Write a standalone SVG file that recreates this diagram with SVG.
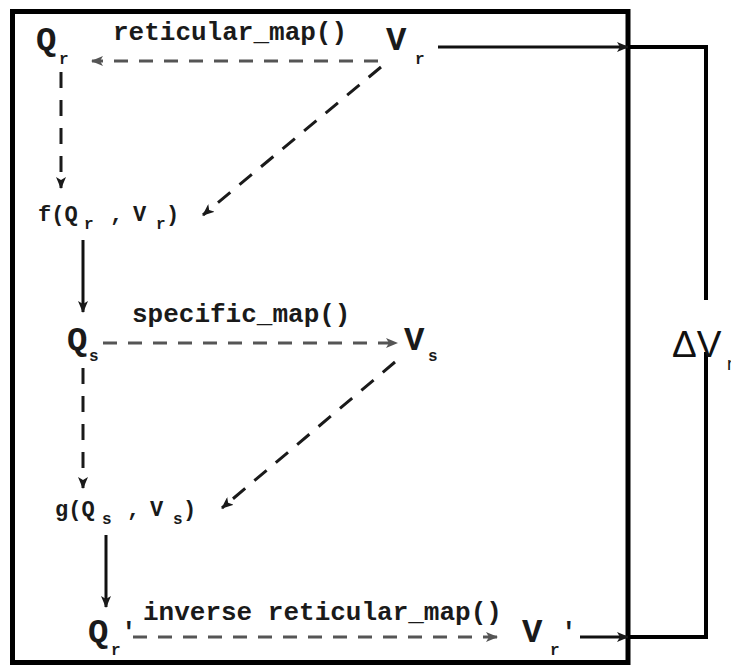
<svg xmlns="http://www.w3.org/2000/svg" width="731" height="671" viewBox="0 0 731 671">
<defs>
<marker id="ah" viewBox="0 0 12 10" refX="11" refY="5" markerWidth="12" markerHeight="10" markerUnits="userSpaceOnUse" orient="auto">
<path d="M0,0 L12,5 L0,10 L3,5 z" fill="#1a1a1a"/>
</marker>
<marker id="ahg" viewBox="0 0 12 10" refX="11" refY="5" markerWidth="12" markerHeight="10" markerUnits="userSpaceOnUse" orient="auto">
<path d="M0,0 L12,5 L0,10 L3,5 z" fill="#555"/>
</marker>
</defs>
<style>
.m{font-family:"Liberation Mono","Courier New",monospace;font-weight:bold;fill:#1a1a1a}
.big{font-size:34px}
.sub{font-size:16px}
.pr{font-size:26px}
.lab{font-size:26px}
.fn{font-size:22px}
.gd{stroke:#555;stroke-width:3;stroke-dasharray:14 11;fill:none}
.bd{stroke:#1a1a1a;stroke-width:3;stroke-dasharray:16 12;fill:none}
.sl{stroke:#111;stroke-width:3;fill:none}
</style>
<rect width="731" height="671" fill="#fff"/>
<rect id="frame" x="12.5" y="11.5" width="615.5" height="651" fill="none" stroke="#000" stroke-width="5"/>
<g id="connectors">
<line class="gd" x1="378" y1="61" x2="92" y2="61" marker-end="url(#ahg)"/>
<line class="bd" x1="61" y1="72" x2="61" y2="188" marker-end="url(#ah)"/>
<line class="bd" x1="381" y1="67" x2="203" y2="215" marker-end="url(#ah)"/>
<line class="sl" x1="83" y1="240" x2="83" y2="312" marker-end="url(#ah)"/>
<line class="gd" x1="103" y1="343" x2="397" y2="343" marker-end="url(#ahg)"/>
<line class="bd" x1="395" y1="362" x2="222" y2="508" marker-end="url(#ah)"/>
<line class="bd" x1="83" y1="368" x2="83" y2="488" marker-end="url(#ah)"/>
<line class="sl" x1="106" y1="535" x2="106" y2="607" marker-end="url(#ah)"/>
<line class="gd" x1="133" y1="637" x2="497" y2="637" marker-end="url(#ahg)"/>
<line class="sl" x1="438" y1="47" x2="628" y2="47" marker-end="url(#ah)"/>
<line class="sl" x1="580" y1="637" x2="628" y2="637" marker-end="url(#ah)"/>
<polyline points="628,47 706,47 706,300" stroke="#000" stroke-width="4" fill="none"/>
<polyline points="706,352 706,637 628,637" stroke="#000" stroke-width="4" fill="none"/>
</g>
<g id="label-reticular"><text class="m lab" x="113" y="40">reticular_map()</text></g>
<g id="label-specific"><text class="m lab" x="132" y="322">specific_map()</text></g>
<g id="label-inverse"><text class="m lab" x="143" y="620">inverse reticular_map()</text></g>
<g id="Qr"><text class="m big" x="36" y="50">Q</text><text class="m sub" x="59" y="64">r</text></g>
<g id="Vr"><text class="m big" x="386" y="50">V</text><text class="m sub" x="415" y="64">r</text></g>
<g id="f"><text class="m fn" x="38" y="221">f(Q</text><text class="m sub" x="84" y="229">r</text><text class="m fn" x="110" y="221">,</text><text class="m fn" x="133" y="221">V</text><text class="m sub" x="156" y="229">r</text><text class="m fn" x="166" y="221">)</text></g>
<g id="Qs"><text class="m big" x="67" y="350">Q</text><text class="m sub" x="89" y="361">s</text></g>
<g id="Vs"><text class="m big" x="404" y="350">V</text><text class="m sub" x="428" y="361">s</text></g>
<g id="g"><text class="m fn" x="55" y="516">g(Q</text><text class="m sub" x="102" y="524">s</text><text class="m fn" x="127" y="516">,</text><text class="m fn" x="150" y="516">V</text><text class="m sub" x="173" y="524">s</text><text class="m fn" x="183" y="516">)</text></g>
<g id="Qr2"><text class="m big" x="88" y="642">Q</text><text class="m sub" x="111" y="655">r</text><text class="m pr" x="121" y="640">′</text></g>
<g id="Vr2"><text class="m big" x="522" y="642">V</text><text class="m sub" x="550" y="655">r</text><text class="m pr" x="561" y="640">′</text></g>
<g id="dV"><text x="672" y="357" font-family="Liberation Sans, Arial, sans-serif" font-size="37" fill="#111">ΔV</text><text x="727" y="370" font-family="Liberation Sans, Arial, sans-serif" font-size="18" fill="#111">r</text></g>
</svg>
